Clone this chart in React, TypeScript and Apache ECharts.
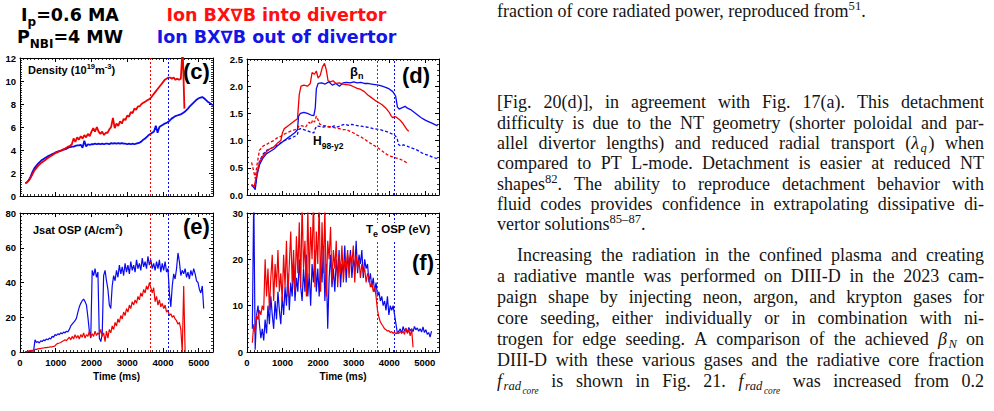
import { useEffect, useRef } from 'react';
import * as echarts from 'echarts';

const RED = '#f00000';
const BLUE = '#0a0af0';
const TIME_MAX = 5400;
const AXIS_FONT = 'Liberation Sans';

// Detachment onset markers (ms)
const detachInto = 3650;
const detachOut = 4150;

// (c) line-averaged density, 1e19 m^-3, sampled every 50 ms from 150 ms
const DENSITY_T0 = 150;
const DENSITY_DT = 50;
const densityInto = [
  1.1, 1.2, 1.35, 1.6, 1.9, 2.2, 2.4, 2.6, 2.75, 2.9,
  3.0, 3.1, 3.25, 3.35, 3.45, 3.55, 3.65, 3.75, 3.8, 3.9,
  3.95, 4.05, 4.1, 4.2, 4.3, 4.35, 4.5, 5.0, 4.7, 5.1,
  4.9, 5.2, 5.0, 5.3, 5.1, 5.4, 5.2, 5.6, 5.9, 5.6,
  6.0, 5.6, 5.4, 5.6, 5.3, 5.5, 5.5, 5.8, 6.0, 6.8,
  5.9, 6.3, 6.1, 6.5, 6.3, 6.7, 6.6, 7.0, 6.9, 7.3,
  7.2, 7.6, 7.5, 7.8, 7.8, 8.0, 8.1, 8.2, 8.3, 8.4,
  8.5, 8.7, 8.9, 9.1, 9.3, 9.5, 9.7, 9.9, 10.1, 10.2,
  10.3, 10.3, 10.2, 10.3, 10.1, 10.2, 10.1, 10.2, 13.0, 7.6,
];
const densityOut = [
  1.1, 1.2, 1.4, 1.7, 2.1, 2.4, 2.6, 2.8, 2.95, 3.1,
  3.2, 3.3, 3.4, 3.5, 3.55, 3.65, 3.7, 3.8, 3.85, 3.9,
  3.95, 4.0, 4.05, 4.1, 4.2, 4.25, 4.3, 4.3, 4.35, 4.4,
  4.4, 4.45, 4.2, 4.8, 4.3, 4.5, 4.45, 4.5, 4.5, 4.55,
  4.5, 4.55, 4.5, 4.55, 4.5, 4.55, 4.55, 4.5, 4.6, 4.55,
  4.6, 4.55, 4.6, 4.55, 4.6, 4.55, 4.55, 4.5, 4.55, 4.5,
  4.55, 4.5, 4.55, 4.6, 4.65, 4.75, 4.9, 5.0, 5.15, 5.3,
  5.4, 5.5, 5.6, 6.1, 5.5, 6.0, 6.1, 6.2, 6.3, 6.35,
  6.45, 6.6, 6.75, 6.85, 6.95, 7.0, 7.05, 7.1, 7.2, 7.3,
  7.45, 7.6, 7.8, 7.95, 8.1, 8.25, 8.4, 8.5, 8.55, 8.6,
  8.5, 8.35, 8.2, 8.1, 8.0, 7.9,
];

// (d) normalised beta and H98(y,2) confinement factor, [time ms, value]
const betaNInto: [number, number][] = [
  [130, 0.2], [200, 0.15], [250, 0.3], [350, 0.6], [450, 0.72], [550, 0.8], [650, 0.85],
  [750, 0.88], [850, 0.95], [950, 1.0], [1000, 1.15], [1050, 1.22], [1150, 1.27], [1250, 1.32],
  [1350, 1.37], [1420, 1.4], [1470, 1.85], [1520, 2.0], [1600, 2.02], [1700, 2.0], [1780, 2.05],
  [1830, 2.25], [1900, 2.22], [1950, 2.28], [2000, 2.15], [2060, 2.2], [2120, 2.35], [2180, 2.42],
  [2230, 2.3], [2280, 2.1], [2350, 2.08], [2420, 2.1], [2500, 2.05], [2600, 2.06], [2700, 2.04],
  [2800, 2.03], [2900, 2.02], [3000, 1.99], [3100, 1.96], [3200, 1.94], [3300, 1.9], [3400, 1.84],
  [3500, 1.79], [3600, 1.74], [3700, 1.7], [3800, 1.66], [3900, 1.6], [4000, 1.52], [4050, 1.46],
  [4100, 1.42], [4150, 1.44], [4200, 1.43], [4300, 1.38], [4400, 1.3], [4500, 1.2], [4550, 1.17],
];
const h98Into: [number, number][] = [
  [130, 0.6], [200, 0.4], [230, 0.3], [280, 0.55], [350, 0.82], [450, 0.9], [550, 0.93],
  [650, 0.97], [750, 1.0], [850, 1.05], [950, 1.08], [1050, 1.12], [1150, 1.15], [1250, 1.18],
  [1350, 1.2], [1420, 1.22], [1470, 1.28], [1550, 1.27], [1650, 1.25], [1700, 1.3], [1750, 1.34],
  [1800, 1.3], [1850, 1.38], [1900, 1.34], [1950, 1.45], [2000, 1.38], [2050, 1.3], [2150, 1.28],
  [2300, 1.26], [2400, 1.25], [2500, 1.23], [2600, 1.22], [2700, 1.2], [2800, 1.2], [2900, 1.17],
  [3000, 1.14], [3100, 1.1], [3200, 1.07], [3300, 1.03], [3400, 0.98], [3500, 0.94], [3600, 0.9],
  [3700, 0.86], [3800, 0.81], [3900, 0.76], [4000, 0.72], [4100, 0.7], [4200, 0.68], [4300, 0.66],
  [4400, 0.63], [4500, 0.59],
];
const betaNOut: [number, number][] = [
  [130, 0.18], [180, 0.15], [230, 0.1], [280, 0.35], [350, 0.55], [450, 0.68], [550, 0.76],
  [650, 0.8], [750, 0.84], [850, 0.9], [950, 0.95], [1050, 1.0], [1150, 1.05], [1250, 1.1],
  [1350, 1.15], [1420, 1.2], [1450, 1.45], [1500, 1.5], [1600, 1.52], [1700, 1.5], [1800, 1.47],
  [1880, 1.46], [1920, 1.6], [1950, 1.95], [2000, 2.05], [2100, 2.06], [2200, 2.04], [2300, 2.08],
  [2400, 2.02], [2500, 2.05], [2600, 2.0], [2700, 2.06], [2800, 2.07], [2900, 2.06], [3000, 2.08],
  [3100, 2.06], [3200, 2.07], [3300, 2.05], [3400, 2.05], [3500, 2.04], [3600, 2.03], [3700, 2.02],
  [3800, 2.0], [3900, 1.98], [4000, 1.95], [4100, 1.9], [4180, 1.82], [4230, 1.62], [4280, 1.58],
  [4350, 1.6], [4450, 1.63], [4500, 1.6], [4600, 1.57], [4700, 1.52], [4800, 1.47], [4900, 1.42],
  [5000, 1.38], [5100, 1.35], [5200, 1.32], [5300, 1.29], [5360, 1.27],
];
const h98Out: [number, number][] = [
  [130, 0.18], [180, 0.15], [230, 0.12], [280, 0.4], [350, 0.62], [450, 0.75], [550, 0.82],
  [650, 0.85], [750, 0.88], [850, 0.92], [950, 0.96], [1050, 1.0], [1150, 1.02], [1250, 1.05],
  [1350, 1.08], [1420, 1.12], [1450, 1.2], [1500, 1.22], [1600, 1.2], [1700, 1.18], [1800, 1.15],
  [1880, 1.14], [1920, 1.22], [1960, 1.27], [2050, 1.26], [2150, 1.25], [2250, 1.26], [2350, 1.24],
  [2450, 1.27], [2550, 1.25], [2650, 1.28], [2750, 1.3], [2850, 1.28], [2950, 1.3], [3050, 1.28],
  [3150, 1.27], [3250, 1.26], [3350, 1.25], [3450, 1.24], [3550, 1.22], [3650, 1.21], [3750, 1.2],
  [3850, 1.18], [3950, 1.16], [4050, 1.13], [4150, 1.1], [4220, 1.05], [4260, 0.93], [4320, 0.9],
  [4400, 0.92], [4500, 0.9], [4600, 0.87], [4700, 0.85], [4800, 0.82], [4900, 0.78], [5000, 0.75],
  [5100, 0.73], [5200, 0.7], [5300, 0.68], [5360, 0.67],
];

// (e) outer strike point ion saturation current, A/cm^2, every 40 ms from 140 ms
const JSAT_T0 = 140;
const JSAT_DT = 40;
const jsatInto = [
  0, 0, 0.5, 0.5, 0.8, 1, 1, 1.5, 1.5, 1.8,
  2, 2, 2.2, 2.3, 2.5, 2.5, 2.7, 2.8, 3, 3,
  3.2, 3.5, 4.5, 5, 5.2, 5.5, 6, 6.5, 7, 6.5,
  7.5, 8.5, 7, 9, 7.5, 10, 8, 9.5, 7.5, 10,
  8.5, 11, 8, 10, 9, 12, 8.5, 10.5, 9, 12,
  9.5, 11, 10, 13, 9, 11, 6, 12, 8, 13,
  11, 15, 13, 17, 15, 19, 17, 21, 19, 23,
  21, 25, 23, 27, 25, 29, 27, 30, 28, 32,
  30, 34, 32, 36, 34, 38, 36, 40, 37, 34,
  37, 29, 32, 27, 30, 26, 28, 25, 27, 23,
  24, 21, 22, 20, 21, 19, 18, 16, 17, 13,
  0, 38, 0,
];
const jsatOut = [
  0, 0.2, 0.3, 0.5, 0.4, 0.6, 0.5, 7, 5.5, 6,
  5.2, 6.5, 6, 7, 6.5, 7.5, 7, 8, 7.5, 9,
  8.5, 10, 9.5, 10.5, 10, 11, 10.5, 11.5, 11, 12,
  11.5, 13, 15, 16, 17, 18, 19.5, 23, 26, 28,
  29.5, 30.5, 29, 27, 20, 12, 8, 47, 44, 48,
  43, 46, 8, 6, 10, 44, 47, 41, 36, 27,
  25, 38, 44, 41, 47, 43, 50, 45, 49, 44,
  51, 46, 50, 45, 52, 47, 50, 46, 53, 48,
  51, 47, 54, 49, 52, 48, 55, 50, 53, 48,
  51, 47, 52, 48, 53, 46, 51, 47, 52, 46,
  48, 34, 26, 38, 45, 42, 48, 57, 52, 44,
  47, 45, 48, 43, 46, 42, 47, 44, 48, 45,
  41, 40, 36, 34, 38, 25,
];

// (f) outer strike point electron temperature, eV, every 40 ms from 150 ms
const TE_T0 = 150;
const TE_DT = 40;
const teInto = [
  2, 6, 4, 8, 7, 9, 8, 10, 9,
  20, 12, 18, 9, 16, 21, 11, 19, 14, 22, 13, 17, 11,
  21, 14, 24, 12, 19, 26, 15, 22, 13, 25, 17, 28,
  14, 32, 18, 24, 12, 31, 16, 27, 20, 33, 14, 26,
  19, 32, 13, 28, 17, 31, 12, 24, 20, 27, 15, 22,
  18, 24, 14, 21, 17, 23, 15, 20, 18, 22, 16, 21,
  19, 23, 15, 21, 18, 20, 16, 19, 17, 18, 15, 17,
  16, 14, 15, 13, 14, 12, 9, 7.5, 6.5, 6, 5.5, 5,
  4.8, 4.5, 4.6, 4.2, 4.4, 4.0, 4.3, 3.9, 4.2, 4.0, 4.4, 4.1,
  4.5, 3.8, 5.2, 4.0, 4.8, 3.5, 5.0, 1,
];
const teOut = [
  5, 34, 0.5, 8, 10, 6, 3, 5, 2.5,
  7, 4, 10, 6, 12, 8, 5, 11, 7, 13, 9, 6, 12,
  8, 14, 10, 17, 9, 15, 12, 19, 11, 16, 13, 20,
  14, 11, 18, 13, 21, 12, 17, 10, 19, 15, 22, 13,
  18, 12, 20, 15, 23, 11, 19, 5, 16, 21, 14, 18,
  13, 20, 16, 22, 14, 19, 17, 23, 15, 21, 18, 22,
  16, 20, 18, 24, 17, 21, 19, 22, 16, 20, 18, 19,
  15, 17, 14, 16, 13, 15, 12, 13, 11, 12, 10, 11,
  9, 12, 8, 10, 9, 10, 8, 6, 4, 4.5, 5, 4,
  5.5, 4.5, 5, 4.2, 5.3, 4.6, 5.0, 4.4, 5.5, 4.8, 5.2, 4.5,
  5, 4.3, 5.4, 4.2, 4.8, 3.8, 4.2, 3.2, 4.5,
];

// Figure headings and panel annotations (markup: _{sub} ^{sup} *italic* ~{sub-sub})
const headingLeft = ['I_{p}=0.6 MA', 'P_{NBI}=4 MW'];
const headingInto = 'Ion BX∇B into divertor';
const headingOut = 'Ion BX∇B out of divertor';
const densityTitle = 'Density (10^{19}m^{-3})';
const jsatTitle = 'Jsat OSP (A/cm^{2})';
const teTitle = 'T_{e} OSP (eV)';
const betaTitle = 'β_{n}';
const h98Title = 'H_{98-y2}';
const panelTags = ['(c)', '(d)', '(e)', '(f)'];

// Running text beside the figure
const captionTail = 'fraction of core radiated power, reproduced from^{51}.';
const paragraphOne = [
  '[Fig. 20(d)], in agreement with Fig. 17(a). This detachment',
  'difficulty is due to the NT geometry (shorter poloidal and par-',
  'allel divertor lengths) and reduced radial transport (*λ*_{q}) when',
  'compared to PT L-mode. Detachment is easier at reduced NT',
  'shapes^{82}. The ability to reproduce detachment behavior with',
  'fluid codes provides confidence in extrapolating dissipative di-',
  'vertor solutions^{85–87}.',
];
const paragraphTwo = [
  'Increasing the radiation in the confined plasma and creating',
  'a radiative mantle was performed on DIII-D in the 2023 cam-',
  'paign shape by injecting neon, argon, and krypton gases for',
  'core seeding, either individually or in combination with ni-',
  'trogen for edge seeding. A comparison of the achieved *β*_{N} on',
  'DIII-D with these various gases and the radiative core fraction',
  '*f*_{rad}~{core} is shown in Fig. 21. *f*_{rad}~{core} was increased from 0.2',
];

type Kind = { size: number; family: string; weight?: string; italic?: boolean; dy: number };
type Kinds = Record<string, Kind>;
type Seg = { text: string; kind: string };

const CENTRAL = 0.34; // distance from alphabetic to central baseline, in em
const ITALIC_CORRECTION = 1.5; // extra room after a slanted piece

function parseMarkup(src: string): Seg[] {
  const out: Seg[] = [];
  const re = /\*([^*]+)\*|\^\{([^}]*)\}|_\{([^}]*)\}|~\{([^}]*)\}|([^*^_~]+)/g;
  let m: RegExpExecArray | null;
  while ((m = re.exec(src))) {
    if (m[1] !== undefined) out.push({ text: m[1], kind: 'it' });
    else if (m[2] !== undefined) out.push({ text: m[2], kind: 'sup' });
    else if (m[3] !== undefined) out.push({ text: m[3], kind: 'sub' });
    else if (m[4] !== undefined) out.push({ text: m[4], kind: 'subsub' });
    else out.push({ text: m[5], kind: 'n' });
  }
  return out;
}

function cssFont(k: Kind) {
  return `${k.italic ? 'italic' : 'normal'} ${k.weight || 'normal'} ${k.size}px ${k.family}`;
}

function makeLayout() {
  const ctx = document.createElement('canvas').getContext('2d') as CanvasRenderingContext2D;
  const measure = (k: Kind, s: string) => {
    ctx.font = cssFont(k);
    return ctx.measureText(s).width;
  };
  const els: any[] = [];
  const textEl = (text: string, k: Kind, x: number, baseline: number, fill: string) => {
    els.push({
      type: 'text',
      x,
      y: baseline + k.dy - CENTRAL * k.size,
      silent: true,
      z: 100,
      style: {
        text,
        fill,
        fontSize: k.size,
        fontFamily: k.family,
        fontWeight: k.weight || 'normal',
        fontStyle: k.italic ? 'italic' : 'normal',
        align: 'left',
        verticalAlign: 'middle',
        textAlign: 'left',
        textVerticalAlign: 'middle',
      },
    });
  };
  // advance of one piece, including italic correction when something follows it
  const advance = (segs: Seg[], kinds: Kinds, i: number) => {
    const k = kinds[segs[i].kind];
    const extra = k.italic && i < segs.length - 1 ? ITALIC_CORRECTION : 0;
    return measure(k, segs[i].text) + extra;
  };
  const segsWidth = (segs: Seg[], kinds: Kinds) =>
    segs.reduce((w, _s, i) => w + advance(segs, kinds, i), 0);
  const placeSegs = (segs: Seg[], kinds: Kinds, x0: number, baseline: number, fill: string) => {
    let x = x0;
    segs.forEach((s, i) => {
      const k = kinds[s.kind];
      const body = s.text.replace(/^\s+/, '');
      const lead = s.text.slice(0, s.text.length - body.length);
      const start = x + (lead ? measure(k, lead) : 0);
      if (body) textEl(body, k, start, baseline, fill);
      x += advance(segs, kinds, i);
    });
  };
  const run = (
    markup: string, kinds: Kinds, x: number, baseline: number, fill: string,
    align: 'left' | 'center' = 'left',
  ) => {
    const segs = parseMarkup(markup);
    const w = segsWidth(segs, kinds);
    placeSegs(segs, kinds, align === 'center' ? x - w / 2 : x, baseline, fill);
  };
  const paragraphLine = (
    line: string, kinds: Kinds, left: number, right: number, baseline: number,
    justify: boolean, fill: string,
  ) => {
    const words = line.split(' ').map(parseMarkup);
    const widths = words.map((w) => segsWidth(w, kinds));
    const total = widths.reduce((a, b) => a + b, 0);
    const gap = justify && words.length > 1
      ? (right - left - total) / (words.length - 1)
      : measure(kinds.n, ' ');
    let x = left;
    words.forEach((w, i) => {
      placeSegs(w, kinds, x, baseline, fill);
      x += widths[i] + gap;
    });
  };
  return { els, run, paragraphLine };
}

function buildGraphic() {
  const { els, run, paragraphLine } = makeLayout();

  // white box that keeps the T_e label readable over the markers
  els.push({
    type: 'rect', z: 95, silent: true,
    shape: { x: 364, y: 223, width: 72, height: 19 },
    style: { fill: '#ffffff' },
  });

  const heading: Kinds = {
    n: { size: 17.5, family: 'DejaVu Sans', weight: 'bold', dy: 0 },
    sub: { size: 12, family: 'DejaVu Sans', weight: 'bold', dy: 5.5 },
  };
  run(headingLeft[0], heading, 70, 20.7, '#000', 'center');
  run(headingLeft[1], heading, 70, 42.7, '#000', 'center');
  run(headingInto, heading, 276.5, 20.7, '#ff1010', 'center');
  run(headingOut, heading, 276.5, 42.7, '#1414e6', 'center');

  const label: Kinds = {
    n: { size: 11, family: AXIS_FONT, weight: 'bold', dy: 0 },
    sup: { size: 7.5, family: AXIS_FONT, weight: 'bold', dy: -4.5 },
    sub: { size: 9, family: AXIS_FONT, weight: 'bold', dy: 4 },
  };
  run(densityTitle, label, 28, 74, '#000');
  run(jsatTitle, label, 33, 234, '#000');
  run(teTitle, { ...label, n: { ...label.n, size: 11.5 } }, 366, 233, '#000');
  run(betaTitle, { ...label, n: { ...label.n, size: 13 }, sub: { ...label.sub, size: 9, dy: 3 } }, 350, 76, '#000');
  run(h98Title, { ...label, n: { ...label.n, size: 12 }, sub: { ...label.sub, size: 8.5, dy: 4 } }, 313, 145, '#000');

  const tag: Kinds = { n: { size: 22, family: AXIS_FONT, weight: 'bold', dy: 0 } };
  const tagSpots: [number, number][] = [[183, 78.5], [402, 83.2], [183, 233.7], [412, 269.7]];
  panelTags.forEach((t, i) => run(t, tag, tagSpots[i][0], tagSpots[i][1], '#000'));

  const serif = 'Liberation Serif';
  const body: Kinds = {
    n: { size: 18, family: serif, dy: 0 },
    it: { size: 18, family: serif, italic: true, dy: 0 },
    sup: { size: 12.6, family: serif, dy: -7 },
    sub: { size: 12.6, family: serif, italic: true, dy: 3.0 },
    subsub: { size: 9.3, family: serif, italic: true, dy: 7 },
  };
  const LEFT = 497;
  const RIGHT = 984;
  const ink = '#141414';
  paragraphLine(captionTail, body, LEFT, RIGHT, 17.5, false, ink);
  paragraphOne.forEach((l, i) =>
    paragraphLine(l, body, LEFT, RIGHT, 108.5 + i * 20.35, i < paragraphOne.length - 1, ink));
  paragraphTwo.forEach((l, i) =>
    paragraphLine(l, body, i === 0 ? LEFT + 20 : LEFT, RIGHT, 261.5 + i * 21, true, ink));

  return els;
}

const panels = [
  { left: 20, top: 58, width: 193, height: 138, yMax: 12, yStep: 2, yMinor: 10, digits: 0, timeAxis: false },
  { left: 247, top: 59, width: 192, height: 136, yMax: 2.5, yStep: 0.5, yMinor: 5, digits: 1, timeAxis: false },
  { left: 20, top: 213, width: 193, height: 139, yMax: 80, yStep: 20, yMinor: 10, digits: 0, timeAxis: true },
  { left: 247, top: 213, width: 192, height: 139, yMax: 30, yStep: 10, yMinor: 10, digits: 0, timeAxis: true },
];

const sampled = (t0: number, dt: number, v: number[]) => v.map((y, i) => [t0 + i * dt, y]);

function buildOption() {
  const frame = { show: true, onZero: false, lineStyle: { color: '#000', width: 1 } };
  const tick = { show: true, inside: true, length: 4, lineStyle: { color: '#000', width: 1 } };
  const labelStyle = { color: '#000', fontFamily: AXIS_FONT, fontWeight: 'bold', fontSize: 9.5 };

  const xAxis = panels.flatMap((p, i) => ['bottom', 'top'].map((pos) => ({
    type: 'value',
    gridIndex: i,
    position: pos,
    min: 0,
    max: TIME_MAX,
    interval: 1000,
    axisLine: frame,
    axisTick: tick,
    minorTick: { show: true, splitNumber: 10, length: 2, lineStyle: { color: '#000', width: 0.8 } },
    splitLine: { show: false },
    minorSplitLine: { show: false },
    axisLabel: {
      show: pos === 'bottom' && p.timeAxis,
      margin: 5,
      showMaxLabel: false,
      formatter: (v: number) => String(v),
      ...labelStyle,
    },
    name: pos === 'bottom' && p.timeAxis ? 'Time (ms)' : '',
    nameLocation: 'middle',
    nameGap: 19,
    nameTextStyle: { ...labelStyle, fontSize: 10 },
  })));

  const yAxis = panels.flatMap((p, i) => ['left', 'right'].map((pos) => ({
    type: 'value',
    gridIndex: i,
    position: pos,
    min: 0,
    max: p.yMax,
    interval: p.yStep,
    axisLine: frame,
    axisTick: tick,
    minorTick: { show: true, splitNumber: p.yMinor, length: 2, lineStyle: { color: '#000', width: 0.8 } },
    splitLine: { show: false },
    minorSplitLine: { show: false },
    axisLabel: {
      show: pos === 'left',
      margin: 4,
      formatter: (v: number) => v.toFixed(p.digits),
      ...labelStyle,
    },
  })));

  const line = (data: any[], color: string, g: number, width: number, dash?: number[]) => ({
    type: 'line',
    data,
    xAxisIndex: 2 * g,
    yAxisIndex: 2 * g,
    showSymbol: false,
    symbol: 'none',
    silent: true,
    clip: true,
    lineStyle: { color, width, type: dash || 'solid' },
    emphasis: { disabled: true },
  });

  const markers = {
    silent: true,
    symbol: ['none', 'none'],
    label: { show: false },
    data: [
      { xAxis: detachInto, lineStyle: { color: RED, type: [2, 2], width: 1 } },
      { xAxis: detachOut, lineStyle: { color: BLUE, type: [2, 2], width: 1 } },
    ],
  };

  const series = [
    { ...line(sampled(DENSITY_T0, DENSITY_DT, densityOut), BLUE, 0, 1.8), markLine: markers },
    line(sampled(DENSITY_T0, DENSITY_DT, densityInto), RED, 0, 1.8),
    { ...line(betaNOut, BLUE, 1, 1.3), markLine: markers },
    line(h98Out, BLUE, 1, 1.3, [3, 2]),
    line(betaNInto, RED, 1, 1.3),
    line(h98Into, RED, 1, 1.3, [3, 2]),
    { ...line(sampled(JSAT_T0, JSAT_DT, jsatOut), BLUE, 2, 1.2), markLine: markers },
    line(sampled(JSAT_T0, JSAT_DT, jsatInto), RED, 2, 1.2),
    { ...line(sampled(TE_T0, TE_DT, teOut), BLUE, 3, 1.2), markLine: markers },
    line(sampled(TE_T0, TE_DT, teInto), RED, 3, 1.2),
  ];

  return {
    animation: false,
    backgroundColor: '#ffffff',
    grid: panels.map((p) => ({
      left: p.left, top: p.top, width: p.width, height: p.height,
      containLabel: false, outerBoundsMode: 'none',
    })),
    xAxis,
    yAxis,
    series,
    graphic: { elements: buildGraphic() },
  };
}

export default function App() {
  const ref = useRef<HTMLDivElement>(null);
  useEffect(() => {
    const el = ref.current;
    if (!el) return;
    const chart = echarts.init(el, undefined, { renderer: 'svg' });
    chart.setOption(buildOption() as any);
    return () => chart.dispose();
  }, []);
  return (
    <div
      ref={ref}
      style={{ position: 'absolute', left: 0, top: 0, width: 994, height: 411, background: '#fff' }}
    />
  );
}
